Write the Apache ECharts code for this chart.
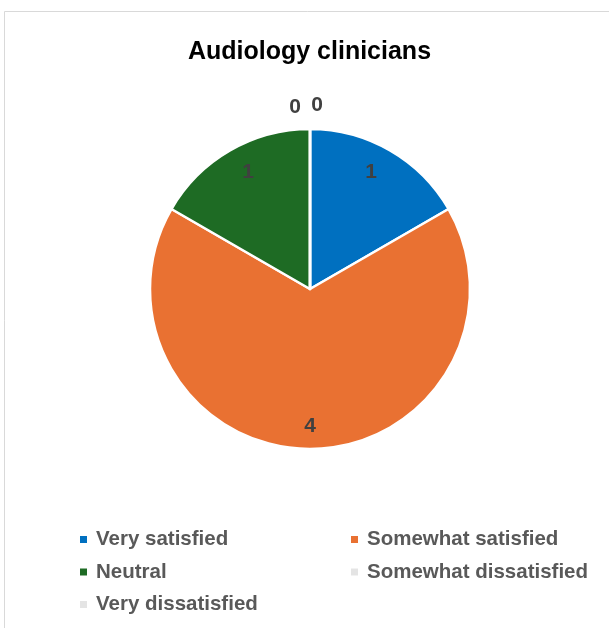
<!DOCTYPE html>
<html>
<head>
<meta charset="utf-8">
<script src="https://cdn.jsdelivr.net/npm/echarts@6/dist/echarts.min.js"></script>
<style>
  html, body { margin: 0; padding: 0; background: #fff; }
  #chart { width: 609px; height: 628px; }
</style>
</head>
<body>
<div id="chart"></div>
<script>
// Satisfaction responses from audiology clinicians
const categories = ['Very satisfied', 'Somewhat satisfied', 'Neutral', 'Somewhat dissatisfied', 'Very dissatisfied'];
const counts = [1, 4, 1, 0, 0];
const sliceColors = ['#0070c0', '#e97132', '#1e6b24', '#e4e4e4', '#e4e4e4'];

const chart = echarts.init(document.getElementById('chart'));

const pieData = categories.map((name, i) => ({
  name: name,
  value: counts[i],
  itemStyle: { color: sliceColors[i] }
}));

const labelFont = {
  fontFamily: 'Liberation Sans',
  fontWeight: 'bold',
  fontSize: 21,
  color: '#404040'
};

const legendText = {
  fontFamily: 'Liberation Sans',
  fontWeight: 'bold',
  fontSize: 20.5,
  color: '#595959',
  lineHeight: 20,
  padding: [0, 0, 0, 3]
};

// small nudges so the value labels sit where the rim labels belong
const labelNudge = [[-6, -1], [0, 3], [5, -1], [-15, -48], [7, -50]];

chart.setOption({
  backgroundColor: '#ffffff',
  animation: false,
  title: {
    text: 'Audiology clinicians',
    left: 304.5,
    textAlign: 'center',
    top: 35,
    textStyle: {
      fontFamily: 'Liberation Sans',
      fontWeight: 'bold',
      fontSize: 25,
      color: '#000000'
    }
  },
  graphic: [{
    type: 'rect',
    shape: { x: 4.5, y: 11.5, width: 800, height: 800 },
    style: { fill: 'none', stroke: '#d9d9d9', lineWidth: 1 },
    silent: true
  }],
  legend: [
    {
      orient: 'vertical',
      left: 73,
      top: 524,
      icon: 'rect',
      itemWidth: 9,
      itemHeight: 9,
      itemGap: 11.5,
      selectedMode: false,
      data: [categories[0], categories[2], categories[4]],
      textStyle: legendText
    },
    {
      orient: 'vertical',
      left: 344,
      top: 524,
      icon: 'rect',
      itemWidth: 9,
      itemHeight: 9,
      itemGap: 11.5,
      selectedMode: false,
      data: [categories[1], categories[3]],
      textStyle: legendText
    }
  ],
  series: [
    {
      // the pie itself
      type: 'pie',
      center: [310, 289],
      radius: [0, 160],
      startAngle: 90,
      clockwise: true,
      avoidLabelOverlap: false,
      silent: true,
      itemStyle: { borderColor: '#ffffff', borderWidth: 2.5 },
      label: { show: false },
      labelLine: { show: false },
      data: pieData
    },
    {
      // transparent ring carrying the value labels near the rim
      type: 'pie',
      center: [310, 289],
      radius: [102, 160],
      startAngle: 90,
      clockwise: true,
      avoidLabelOverlap: false,
      silent: true,
      legendHoverLink: false,
      itemStyle: { color: 'rgba(0,0,0,0)', borderWidth: 0 },
      label: Object.assign({ show: true, position: 'inside', formatter: '{c}' }, labelFont),
      labelLine: { show: false },
      labelLayout: function (params) {
        const n = labelNudge[params.dataIndex];
        return { dx: n[0], dy: n[1] };
      },
      data: categories.map((name, i) => ({ name: name + ' ', value: counts[i] }))
    }
  ]
});
</script>
</body>
</html>
